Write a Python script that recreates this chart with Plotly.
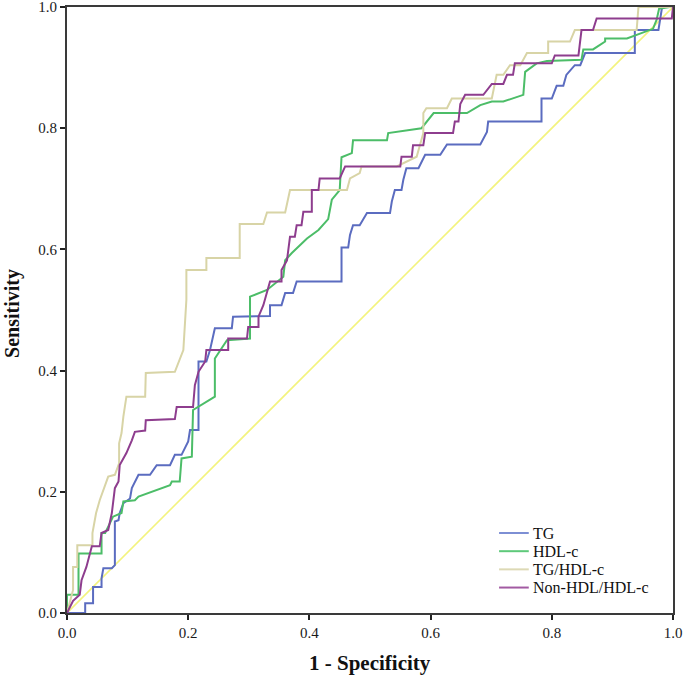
import plotly.graph_objects as go

# ROC curve vertices: (1 - specificity, sensitivity)
tg_roc = [(0, 0), (0.03, 0), (0.03, 0.016), (0.043, 0.016), (0.043, 0.043), (0.057, 0.043),
          (0.057, 0.057), (0.06, 0.074), (0.074, 0.074), (0.079, 0.079), (0.079, 0.151),
          (0.085, 0.153), (0.087, 0.165), (0.093, 0.181), (0.104, 0.189), (0.107, 0.206),
          (0.118, 0.228), (0.137, 0.228), (0.148, 0.244), (0.17, 0.244), (0.178, 0.261),
          (0.189, 0.261), (0.2, 0.283), (0.203, 0.302), (0.217, 0.302), (0.217, 0.415),
          (0.23, 0.415), (0.236, 0.434), (0.244, 0.47), (0.272, 0.47), (0.274, 0.489),
          (0.335, 0.49), (0.335, 0.508), (0.354, 0.508), (0.36, 0.528), (0.373, 0.528),
          (0.379, 0.547), (0.453, 0.547), (0.453, 0.603), (0.464, 0.603), (0.467, 0.624),
          (0.472, 0.64), (0.483, 0.64), (0.495, 0.66), (0.533, 0.66), (0.536, 0.679),
          (0.541, 0.698), (0.552, 0.698), (0.555, 0.715), (0.56, 0.734), (0.58, 0.734),
          (0.591, 0.756), (0.616, 0.756), (0.627, 0.773), (0.682, 0.773), (0.693, 0.794),
          (0.695, 0.811), (0.783, 0.811), (0.783, 0.849), (0.8, 0.849), (0.808, 0.87),
          (0.819, 0.87), (0.824, 0.888), (0.838, 0.904), (0.847, 0.904), (0.855, 0.924),
          (0.937, 0.924), (0.937, 0.962), (0.976, 0.962), (0.979, 0.981), (0.982, 1.0), (1.0, 1.0)]

hdl_roc = [(0, 0), (0.0, 0.03), (0.019, 0.03), (0.019, 0.098), (0.057, 0.098), (0.057, 0.132),
           (0.063, 0.132), (0.076, 0.159), (0.09, 0.165), (0.093, 0.184), (0.112, 0.186),
           (0.118, 0.192), (0.17, 0.211), (0.173, 0.217), (0.186, 0.217), (0.189, 0.255),
           (0.206, 0.258), (0.208, 0.335), (0.244, 0.357), (0.244, 0.42), (0.264, 0.45),
           (0.302, 0.453), (0.302, 0.522), (0.33, 0.533), (0.357, 0.555), (0.36, 0.582),
           (0.371, 0.594), (0.396, 0.618), (0.415, 0.632), (0.431, 0.65), (0.437, 0.682),
           (0.45, 0.698), (0.453, 0.752), (0.47, 0.759), (0.472, 0.78), (0.528, 0.78),
           (0.53, 0.792), (0.585, 0.8), (0.605, 0.825), (0.66, 0.825), (0.682, 0.838),
           (0.701, 0.844), (0.72, 0.844), (0.753, 0.855), (0.756, 0.893), (0.775, 0.907),
           (0.792, 0.911), (0.849, 0.913), (0.852, 0.93), (0.868, 0.93), (0.888, 0.943),
           (0.888, 0.948), (0.924, 0.948), (0.946, 0.956), (0.967, 0.964), (0.973, 0.979),
           (0.977, 0.997), (0.995, 1.0), (1.0, 1.0)]

tghdl_roc = [(0, 0), (0.01, 0.038), (0.01, 0.076), (0.017, 0.076), (0.017, 0.112), (0.042, 0.112),
             (0.042, 0.132), (0.048, 0.165), (0.054, 0.186), (0.06, 0.203), (0.068, 0.225),
             (0.079, 0.228), (0.086, 0.247), (0.086, 0.28), (0.09, 0.297), (0.093, 0.324),
             (0.098, 0.357), (0.129, 0.357), (0.13, 0.396), (0.178, 0.398), (0.192, 0.434),
             (0.197, 0.517), (0.197, 0.566), (0.23, 0.566), (0.23, 0.586), (0.285, 0.586),
             (0.285, 0.642), (0.324, 0.642), (0.33, 0.661), (0.36, 0.661), (0.368, 0.698),
             (0.462, 0.698), (0.467, 0.717), (0.483, 0.726), (0.486, 0.737), (0.544, 0.737),
             (0.577, 0.753), (0.588, 0.792), (0.588, 0.825), (0.593, 0.833), (0.627, 0.833),
             (0.635, 0.849), (0.701, 0.849), (0.709, 0.888), (0.72, 0.888), (0.731, 0.904),
             (0.748, 0.904), (0.759, 0.924), (0.794, 0.924), (0.794, 0.943), (0.83, 0.943),
             (0.838, 0.962), (0.94, 0.962), (0.943, 1.0), (1.0, 1.0)]

nonhdl_roc = [(0, 0), (0.01, 0.02), (0.021, 0.03), (0.024, 0.054), (0.032, 0.076), (0.041, 0.11),
              (0.054, 0.11), (0.057, 0.132), (0.068, 0.137), (0.074, 0.165), (0.079, 0.206),
              (0.085, 0.217), (0.087, 0.244), (0.098, 0.264), (0.107, 0.285), (0.112, 0.299),
              (0.129, 0.301), (0.13, 0.318), (0.178, 0.32), (0.181, 0.34), (0.208, 0.34),
              (0.211, 0.376), (0.217, 0.398), (0.228, 0.415), (0.23, 0.434), (0.266, 0.434),
              (0.266, 0.453), (0.297, 0.453), (0.299, 0.472), (0.316, 0.472), (0.316, 0.489),
              (0.324, 0.508), (0.335, 0.547), (0.354, 0.547), (0.354, 0.566), (0.363, 0.582),
              (0.368, 0.621), (0.376, 0.621), (0.379, 0.64), (0.387, 0.64), (0.39, 0.662),
              (0.404, 0.662), (0.404, 0.698), (0.415, 0.698), (0.417, 0.717), (0.45, 0.717),
              (0.459, 0.737), (0.55, 0.737), (0.552, 0.753), (0.569, 0.753), (0.571, 0.772),
              (0.588, 0.772), (0.591, 0.792), (0.637, 0.792), (0.64, 0.811), (0.646, 0.811),
              (0.649, 0.84), (0.657, 0.855), (0.687, 0.855), (0.701, 0.873), (0.72, 0.873),
              (0.726, 0.888), (0.736, 0.888), (0.739, 0.907), (0.8, 0.907), (0.805, 0.92),
              (0.844, 0.92), (0.849, 0.962), (0.868, 0.962), (0.874, 0.981), (0.998, 0.981),
              (1.0, 1.0)]

reference_x = [0, 1]
reference_y = [0, 1]

series_names = ["TG", "HDL-c", "TG/HDL-c", "Non-HDL/HDL-c"]
series_data = [tg_roc, hdl_roc, tghdl_roc, nonhdl_roc]
series_colors = ["#5b6cc0", "#4cbd68", "#d8d4a6", "#8e3d8e"]
legend_colors = ["#7d8fd4", "#5ec97a", "#ddd9b5", "#a25aa2"]

tick_vals = [0.0, 0.2, 0.4, 0.6, 0.8, 1.0]
tick_text = ["0.0", "0.2", "0.4", "0.6", "0.8", "1.0"]

FONT = "Liberation Serif, Times New Roman, serif"

fig = go.Figure()
fig.add_trace(go.Scatter(x=reference_x, y=reference_y, mode="lines",
                         line=dict(color="#f3f37e", width=1.6), showlegend=False,
                         hoverinfo="skip"))
for name, pts, col in zip(series_names, series_data, series_colors):
    xs = [p[0] for p in pts]
    ys = [p[1] for p in pts]
    fig.add_trace(go.Scatter(x=xs, y=ys, mode="lines", name=name,
                             line=dict(color=col, width=2), showlegend=False))

# legend drawn inside the plot, bottom right
legend_rows_y = [0.132, 0.102, 0.072, 0.042]
for name, col, yy in zip(series_names, legend_colors, legend_rows_y):
    fig.add_shape(type="line", xref="paper", yref="paper", x0=0.713, x1=0.762, y0=yy, y1=yy,
                  line=dict(color=col, width=2))
    fig.add_annotation(xref="paper", yref="paper", x=0.766, y=yy, text=name, showarrow=False,
                       xanchor="left", yanchor="middle",
                       font=dict(family=FONT, size=16, color="#111111"))

# axis titles
fig.add_annotation(xref="paper", yref="paper", x=0.5, y=-0.083, text="<b>1 - Specificity</b>",
                   showarrow=False, xanchor="center", yanchor="middle",
                   font=dict(family=FONT, size=21, color="#111111"))
fig.add_annotation(xref="paper", yref="paper", x=-0.091, y=0.495, text="<b>Sensitivity</b>",
                   showarrow=False, xanchor="center", yanchor="middle", textangle=-90,
                   font=dict(family=FONT, size=20, color="#111111"))

axis_common = dict(range=[0, 1], tickvals=tick_vals, ticktext=tick_text, showgrid=False,
                   zeroline=False, showline=True, linecolor="#3a3a3a", linewidth=2,
                   mirror=True, ticks="outside", ticklen=5, tickwidth=1.5, tickcolor="#222222",
                   automargin=False, ticklabeloverflow="allow",
                   tickfont=dict(family=FONT, size=15, color="#1a1a1a"))

fig.update_layout(
    width=685, height=682,
    margin=dict(l=67, r=12, t=7, b=69),
    paper_bgcolor="white", plot_bgcolor="white",
    xaxis=dict(**axis_common),
    yaxis=dict(**axis_common),
)

fig.write_html("out.html", config={"displayModeBar": False},
               post_script="document.body.style.margin='0px';document.body.style.overflow='hidden';")
